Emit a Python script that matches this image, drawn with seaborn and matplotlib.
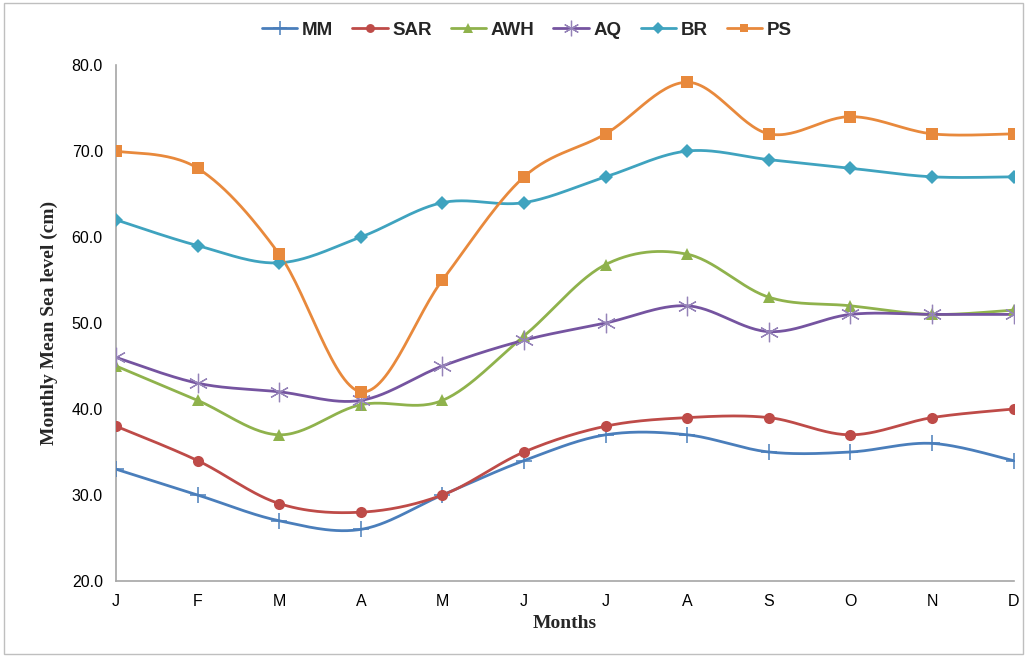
import numpy as np
import pandas as pd
import seaborn as sns
import matplotlib.pyplot as plt
from matplotlib.lines import Line2D
from matplotlib.patches import Rectangle

# month labels and the six station series (cm)
months = ["J", "F", "M", "A", "M", "J", "J", "A", "S", "O", "N", "D"]
mm = [33, 30, 27, 26, 30, 34, 37, 37, 35, 35, 36, 34]
sar = [38, 34, 29, 28, 30, 35, 38, 39, 39, 37, 39, 40]
awh = [45, 41, 37, 40.5, 41, 48.5, 56.8, 58, 53, 52, 51, 51.5]
aq = [46, 43, 42, 41, 45, 48, 50, 52, 49, 51, 51, 51]
br = [62, 59, 57, 60, 64, 64, 67, 70, 69, 68, 67, 67]
ps = [70, 68, 58, 42, 55, 67, 72, 78, 72, 74, 72, 72]

series = {"MM": mm, "SAR": sar, "AWH": awh, "AQ": aq, "BR": br, "PS": ps}
colors = {"MM": "#4A7EBB", "SAR": "#BE4B48", "AWH": "#8FB24C",
          "AQ": "#7554A0", "BR": "#3FA3BF", "PS": "#E8893C"}
mcolors = {"MM": "#4A7EBB", "SAR": "#BE4B48", "AWH": "#8FB24C",
           "AQ": "#9583B8", "BR": "#3FA3BF", "PS": "#E8893C"}
markers = {"MM": "+", "SAR": "o", "AWH": "^", "AQ": (6, 2, 0), "BR": "D", "PS": "s"}
msizes = {"MM": 12, "SAR": 8, "AWH": 9, "AQ": 14, "BR": 7.5, "PS": 8}
mwidths = {"MM": 1.1, "AQ": 0.9}


def smooth(x, y, n=30):
    # excel-style smoothed line (catmull-rom through the points)
    x = np.asarray(x, float)
    y = np.asarray(y, float)
    px = np.concatenate([[x[0]], x, [x[-1]]])
    py = np.concatenate([[y[0]], y, [y[-1]]])
    xs, ys = [], []
    t = np.linspace(0, 1, n, endpoint=False)
    for i in range(1, len(px) - 2):
        x0, x1, x2, x3 = px[i - 1:i + 3]
        y0, y1, y2, y3 = py[i - 1:i + 3]
        c1x, c1y = x1 + (x2 - x0) / 6, y1 + (y2 - y0) / 6
        c2x, c2y = x2 - (x3 - x1) / 6, y2 - (y3 - y1) / 6
        b = [(1 - t) ** 3, 3 * (1 - t) ** 2 * t, 3 * (1 - t) * t ** 2, t ** 3]
        xs.extend(b[0] * x1 + b[1] * c1x + b[2] * c2x + b[3] * x2)
        ys.extend(b[0] * y1 + b[1] * c1y + b[2] * c2y + b[3] * y2)
    xs.append(x[-1])
    ys.append(y[-1])
    return np.array(xs), np.array(ys)


sns.set_style("white")
fig = plt.figure(figsize=(10.27, 6.57), dpi=100)
ax = fig.add_axes([0.113, 0.1157, 0.874, 0.7853])

xpos = np.arange(len(months))
handles = []
for name, vals in series.items():
    sx, sy = smooth(xpos, vals)
    df = pd.DataFrame({"x": sx, "y": sy})
    sns.lineplot(data=df, x="x", y="y", ax=ax, color=colors[name], lw=2,
                 sort=False, estimator=None)
    mew = mwidths.get(name, 0)
    ax.plot(xpos, vals, ls="none", marker=markers[name], ms=msizes[name],
            color=mcolors[name], mec=mcolors[name], mew=mew, zorder=3)
    handles.append(Line2D([], [], color=colors[name], lw=2, marker=markers[name],
                          mfc=mcolors[name], mec=mcolors[name],
                          ms=msizes[name] * 0.8, mew=mew, label=name))

ax.set_xlim(0, 11)
ax.set_ylim(20, 80)
ax.set_yticks(np.arange(20, 81, 10))
ax.set_yticklabels([f"{v:.1f}" for v in np.arange(20, 81, 10)])
ax.set_xticks(xpos)
ax.set_xticklabels(months)

for s in ["top", "right"]:
    ax.spines[s].set_visible(False)
for s in ["left", "bottom"]:
    ax.spines[s].set_color("#A6A6A6")
    ax.spines[s].set_linewidth(1.2)
ax.tick_params(axis="both", direction="out", length=6, width=1, color="#A6A6A6",
               labelsize=11.5, labelcolor="black")
for lab in ax.get_xticklabels() + ax.get_yticklabels():
    lab.set_fontfamily("Liberation Sans")

ax.set_xlabel("Months", fontsize=14, fontweight="bold", family="Liberation Serif", labelpad=4)
ax.set_ylabel("Monthly Mean Sea level (cm)", fontsize=14, fontweight="bold",
              family="Liberation Serif", labelpad=10)

fig.legend(handles=handles, loc="upper center", bbox_to_anchor=(0.513, 0.993), ncol=6,
           frameon=False, handlelength=1.9, columnspacing=1.0, handletextpad=0.25,
           prop={"family": "Liberation Sans", "weight": "bold", "size": 13.5})

fig.patches.append(Rectangle((0.004, 0.004), 0.992, 0.992, transform=fig.transFigure,
                             fill=False, edgecolor="#BFBFBF", lw=1))

plt.savefig("out.png", dpi=100)
